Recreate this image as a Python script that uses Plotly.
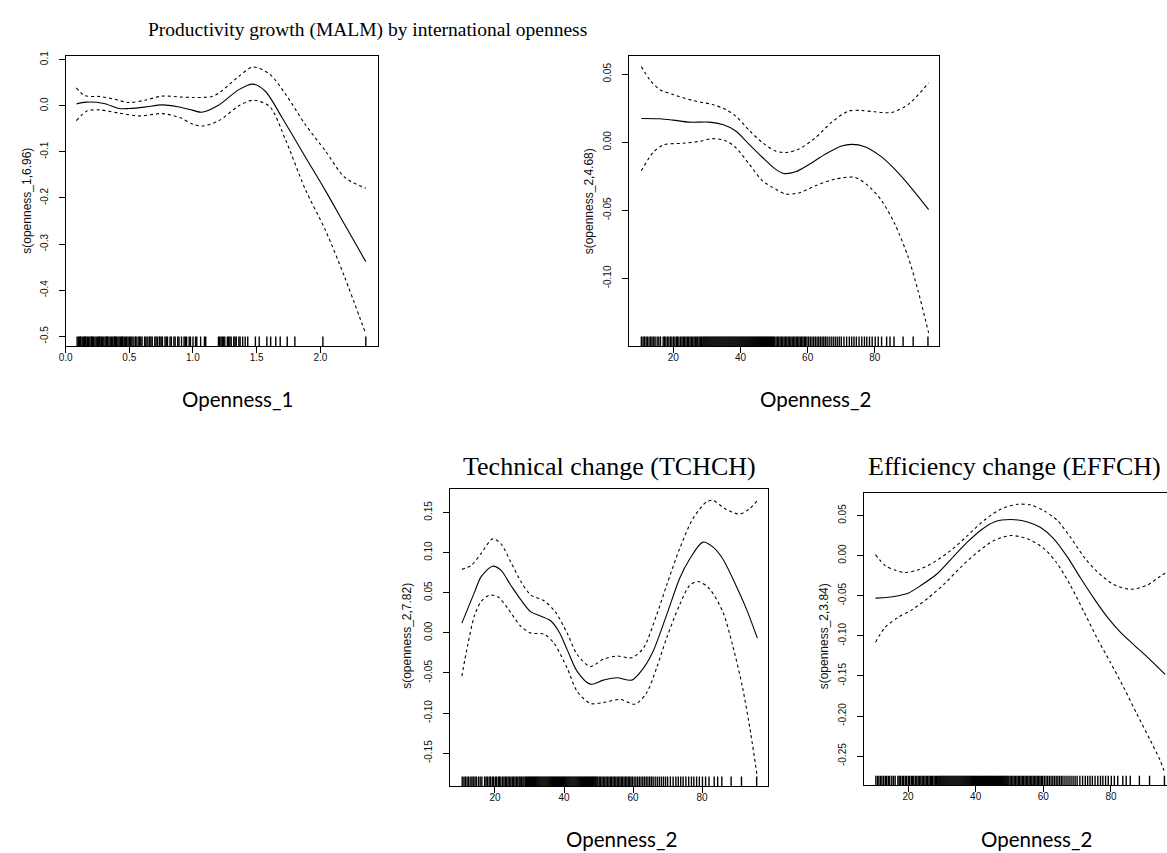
import plotly.graph_objects as go

W, H = 1167, 853

# ---------------- data ----------------
# Panel 1: Productivity growth vs openness_1
p1_fit_x = [0.084, 0.16, 0.30, 0.42, 0.5, 0.62, 0.76, 0.88, 1.0, 1.07, 1.2, 1.36, 1.47, 1.57, 1.70, 1.88, 2.04, 2.20, 2.357]
p1_fit_y = [0.004, 0.008, 0.005, -0.006, -0.006, -0.003, 0.002, -0.002, -0.010, -0.014, 0.001, 0.035, 0.047, 0.031, -0.026, -0.110, -0.184, -0.262, -0.338]
p1_up_x = [0.084, 0.15, 0.27, 0.37, 0.5, 0.62, 0.76, 0.9, 1.0, 1.15, 1.22, 1.36, 1.47, 1.6, 1.73, 1.88, 2.04, 2.19, 2.357]
p1_up_y = [0.039, 0.022, 0.020, 0.015, 0.007, 0.012, 0.021, 0.019, 0.018, 0.020, 0.031, 0.064, 0.084, 0.069, 0.024, -0.040, -0.098, -0.155, -0.179]
p1_lo_x = [0.084, 0.17, 0.27, 0.42, 0.58, 0.76, 0.9, 1.0, 1.07, 1.2, 1.36, 1.47, 1.6, 1.73, 1.88, 2.04, 2.19, 2.357]
p1_lo_y = [-0.032, -0.011, -0.009, -0.016, -0.022, -0.017, -0.026, -0.040, -0.044, -0.033, 0.000, 0.012, -0.001, -0.076, -0.180, -0.270, -0.371, -0.495]

# Panel 2: Productivity growth vs openness_2
p2_fit_x = [10.5, 16, 20, 24.8, 30.7, 34.7, 38.6, 42.6, 46.5, 50.4, 52.9, 56.4, 60.3, 65.2, 70.1, 73.1, 77, 82, 85.9, 89.9, 96]
p2_fit_y = [0.0175, 0.0173, 0.0163, 0.0148, 0.0148, 0.013, 0.0083, -0.0015, -0.011, -0.0197, -0.0229, -0.0217, -0.0165, -0.0088, -0.0027, -0.0015, -0.0032, -0.0107, -0.0197, -0.0307, -0.0494]
p2_up_x = [10.5, 13, 16, 20, 25.8, 31.7, 35.7, 38.6, 42.6, 46.5, 50.4, 53.4, 57.3, 62.3, 67.2, 72.1, 76.1, 80, 84.9, 89.9, 96]
p2_up_y = [0.0557, 0.046, 0.0387, 0.035, 0.0307, 0.0277, 0.024, 0.0192, 0.0088, -0.0002, -0.0063, -0.0075, -0.0051, 0.0034, 0.0148, 0.0229, 0.0234, 0.0224, 0.0219, 0.0277, 0.0436]
p2_lo_x = [10.5, 14, 17, 22.9, 27.8, 31.7, 35.7, 38.6, 42.6, 46.5, 50.4, 53.4, 57.3, 62.3, 68.2, 74.1, 78, 82, 85.9, 89.9, 92.8, 96]
p2_lo_y = [-0.0209, -0.0075, -0.0019, -0.0007, 0.0007, 0.0027, 0.001, -0.0039, -0.016, -0.0282, -0.0343, -0.038, -0.0372, -0.0319, -0.027, -0.0258, -0.0319, -0.0428, -0.0598, -0.0842, -0.1085, -0.140]

# Panel 3: Technical change vs openness_2
p3_fit_x = [10.4, 14.1, 16, 19.3, 21.7, 24.6, 27.5, 30.4, 33.2, 36.1, 38.5, 40.9, 43.8, 47.6, 51.4, 55.3, 59.6, 63, 65.8, 69.7, 73.5, 76.4, 80.2, 83.1, 86, 89.8, 92.7, 96]
p3_fit_y = [0.012, 0.051, 0.070, 0.083, 0.078, 0.059, 0.041, 0.026, 0.021, 0.015, 0.0017, -0.021, -0.048, -0.064, -0.059, -0.056, -0.059, -0.044, -0.023, 0.022, 0.068, 0.092, 0.113, 0.107, 0.092, 0.059, 0.031, -0.0066]
p3_up_x = [10.4, 13.1, 16, 19.3, 21.7, 24.6, 27.5, 30.4, 34.2, 37.5, 40.9, 43.8, 47.6, 51.4, 55.3, 59.6, 63, 66.8, 69.7, 73.5, 77.3, 81.2, 83.1, 86.9, 90.8, 93.6, 96]
p3_up_y = [0.079, 0.084, 0.099, 0.117, 0.111, 0.088, 0.064, 0.047, 0.040, 0.026, -0.0004, -0.027, -0.042, -0.033, -0.029, -0.031, -0.019, 0.022, 0.059, 0.105, 0.142, 0.163, 0.165, 0.154, 0.148, 0.154, 0.165]
p3_lo_x = [10.4, 12.1, 14.1, 16, 18.4, 20.8, 23.6, 27.5, 30.4, 34.2, 37.1, 40.9, 43.8, 47.6, 51.4, 56.2, 60.6, 63.9, 66.8, 69.7, 73.5, 76.4, 78.8, 82.1, 86, 88.8, 91.7, 94.1, 96]
p3_lo_y = [-0.054, -0.015, 0.022, 0.039, 0.047, 0.045, 0.031, 0.008, -0.0004, -0.0017, -0.013, -0.044, -0.073, -0.088, -0.087, -0.083, -0.089, -0.075, -0.044, -0.0066, 0.035, 0.059, 0.064, 0.055, 0.026, -0.015, -0.068, -0.126, -0.180]

# Panel 4: Efficiency change vs openness_2
p4_fit_x = [10.4, 14.1, 17.1, 20, 23.9, 28.8, 33.7, 37.6, 41.6, 45.5, 50.4, 55.3, 59.2, 63.1, 67.1, 71, 74.9, 78.8, 82.7, 86.7, 90.6, 96]
p4_fit_y = [-0.053, -0.052, -0.050, -0.047, -0.037, -0.022, 0.0, 0.017, 0.032, 0.042, 0.045, 0.042, 0.035, 0.021, -0.0016, -0.028, -0.053, -0.076, -0.095, -0.111, -0.126, -0.148]
p4_up_x = [10.4, 13.1, 16.1, 19, 22.9, 27.8, 32.7, 37.6, 42.5, 47.5, 52.4, 56.3, 60.2, 64.1, 68, 72, 75.9, 80.8, 85.7, 90.6, 94.5, 96]
p4_up_y = [0.0012, -0.012, -0.018, -0.021, -0.018, -0.0078, 0.0066, 0.025, 0.044, 0.058, 0.064, 0.063, 0.056, 0.044, 0.023, -0.0016, -0.020, -0.036, -0.042, -0.037, -0.026, -0.022]
p4_lo_x = [10.4, 13.1, 17.1, 21, 25.9, 30.8, 35.7, 40.6, 45.5, 50.4, 55.3, 60.2, 64.1, 68, 72, 75.9, 79.8, 83.7, 87.6, 91.6, 94.5, 96]
p4_lo_y = [-0.108, -0.090, -0.077, -0.068, -0.053, -0.035, -0.014, 0.0045, 0.019, 0.025, 0.021, 0.0087, -0.0099, -0.037, -0.070, -0.103, -0.133, -0.164, -0.197, -0.230, -0.255, -0.272]

# Rug (observed covariate values)
openness_1_obs = [0.09, 0.10, 0.11, 0.115, 0.12, 0.13, 0.14, 0.15, 0.155, 0.16, 0.17, 0.18, 0.19, 0.20,
                  0.205, 0.21, 0.22, 0.23, 0.24, 0.25, 0.26, 0.265, 0.27, 0.28, 0.29, 0.30, 0.31, 0.32,
                  0.325, 0.33, 0.34, 0.35, 0.36, 0.37, 0.38, 0.385, 0.39, 0.40, 0.41, 0.42, 0.43, 0.44,
                  0.445, 0.45, 0.46, 0.47, 0.48, 0.49, 0.50, 0.51, 0.52, 0.53, 0.545, 0.55, 0.56, 0.575,
                  0.58, 0.59, 0.60, 0.62, 0.63, 0.64, 0.655, 0.66, 0.67, 0.68, 0.70, 0.71, 0.72, 0.735,
                  0.74, 0.75, 0.76, 0.78, 0.79, 0.80, 0.82, 0.83, 0.85, 0.86, 0.88, 0.89, 0.91, 0.93,
                  0.94, 0.95, 0.97, 0.98, 1.00, 1.02, 1.03, 1.06, 1.09, 1.10, 1.20, 1.21, 1.22, 1.23,
                  1.24, 1.25, 1.27, 1.28, 1.29, 1.30, 1.32, 1.33, 1.34, 1.36, 1.37, 1.39, 1.41, 1.43,
                  1.49, 1.52, 1.58, 1.61, 1.65, 1.685, 1.74, 1.80, 2.02, 2.357]
openness_2_obs = [10.5, 11.0, 11.4, 11.9, 12.3, 12.8, 13.3, 13.7, 14.2, 14.6, 15.2, 15.7, 16.2, 17.0, 17.4,
                  17.8, 18.3, 18.7, 19.2, 19.6, 20.1, 20.5, 21.0, 21.3, 21.7, 22.2, 22.6, 23.0, 23.4,
                  23.8, 24.2, 24.6, 25.0, 25.4, 25.8, 26.2, 26.6, 27.0, 27.3, 27.7, 28.1, 28.4, 28.8,
                  29.1, 29.4, 29.7, 30.0, 30.3, 30.6, 30.9, 31.2, 31.5, 31.8, 32.1, 32.4, 32.7, 33.0,
                  33.3, 33.6, 33.9, 34.2, 34.5, 34.8, 35.1, 35.4, 35.7, 36.0, 36.3, 36.6, 36.9, 37.2,
                  37.5, 37.8, 38.1, 38.4, 38.7, 39.0, 39.3, 39.6, 39.9, 40.2, 40.5, 40.8, 41.1, 41.4,
                  41.7, 42.0, 42.3, 42.6, 42.9, 43.2, 43.5, 43.8, 44.1, 44.4, 44.7, 45.0, 45.3, 45.6,
                  45.9, 46.2, 46.5, 46.8, 47.1, 47.4, 47.7, 48.0, 48.3, 48.6, 48.9, 49.2, 49.5, 49.8,
                  50.2, 50.6, 51.0, 51.4, 51.8, 52.2, 52.6, 53.0, 53.4, 53.8, 54.2, 54.6, 55.0, 55.4,
                  55.8, 56.2, 56.6, 57.0, 57.4, 57.8, 58.2, 58.6, 59.0, 59.4, 59.8, 60.3, 60.8, 61.3,
                  61.8, 62.3, 62.8, 63.3, 63.8, 64.3, 64.8, 65.3, 65.8, 66.4, 67.0, 67.6, 68.2, 68.8,
                  69.4, 70.0, 70.8, 71.6, 72.4, 73.1, 73.8, 74.5, 75.3, 76.1, 76.9, 77.6, 78.4, 79.2,
                  80.1, 81.0, 82.0, 83.5, 84.5, 85.7, 88.4, 91.4, 95.8]

# Tick values/labels
p1_xt = [0.0, 0.5, 1.0, 1.5, 2.0]
p1_xl = ["0.0", "0.5", "1.0", "1.5", "2.0"]
p1_yt = [-0.5, -0.4, -0.3, -0.2, -0.1, 0.0, 0.1]
p1_yl = ["-0.5", "-0.4", "-0.3", "-0.2", "-0.1", "0.0", "0.1"]
o2_xt = [20, 40, 60, 80]
o2_xl = ["20", "40", "60", "80"]
p2_yt = [-0.10, -0.05, 0.0, 0.05]
p2_yl = ["-0.10", "-0.05", "0.00", "0.05"]
p3_yt = [-0.15, -0.10, -0.05, 0.0, 0.05, 0.10, 0.15]
p3_yl = ["-0.15", "-0.10", "-0.05", "0.00", "0.05", "0.10", "0.15"]
p4_yt = [-0.25, -0.20, -0.15, -0.10, -0.05, 0.0, 0.05]
p4_yl = ["-0.25", "-0.20", "-0.15", "-0.10", "-0.05", "0.00", "0.05"]

# ---------------- layout helpers ----------------
def px2x(px):
    return px / W

def py2y(py):
    return 1 - py / H

panels = [
    dict(box=(59, 373, 51, 343), xr=[0.0, 2.451], yr=[-0.521, 0.1086],
         fit=(p1_fit_x, p1_fit_y), up=(p1_up_x, p1_up_y), lo=(p1_lo_x, p1_lo_y),
         rug=openness_1_obs, xt=p1_xt, xl=p1_xl, yt=p1_yt, yl=p1_yl, mirror_y=True),
    dict(box=(626, 938, 51, 343), xr=[6.9, 99.2], yr=[-0.1496, 0.0636],
         fit=(p2_fit_x, p2_fit_y), up=(p2_up_x, p2_up_y), lo=(p2_lo_x, p2_lo_y),
         rug=openness_2_obs, xt=o2_xt, xl=o2_xl, yt=p2_yt, yl=p2_yl, mirror_y=True),
    dict(box=(446, 766, 487, 786), xr=[7.06, 99.2], yr=[-0.1914, 0.179],
         fit=(p3_fit_x, p3_fit_y), up=(p3_up_x, p3_up_y), lo=(p3_lo_x, p3_lo_y),
         rug=openness_2_obs, xt=o2_xt, xl=o2_xl, yt=p3_yt, yl=p3_yl, mirror_y=True),
    dict(box=(862, 1167, 491, 785), xr=[6.94, 96.56], yr=[-0.2865, 0.0779],
         fit=(p4_fit_x, p4_fit_y), up=(p4_up_x, p4_up_y), lo=(p4_lo_x, p4_lo_y),
         rug=openness_2_obs, xt=o2_xt, xl=o2_xl, yt=p4_yt, yl=p4_yl, mirror_y=False),
]

fig = go.Figure()
tick_font = dict(family="Liberation Sans, Arial, sans-serif", size=10, color="#111")

for i, p in enumerate(panels, start=1):
    xa = "x" if i == 1 else f"x{i}"
    ya = "y" if i == 1 else f"y{i}"
    # rug
    y0 = p["yr"][0]
    y1 = p["yr"][0] + 0.033 * (p["yr"][1] - p["yr"][0])
    rx, ry = [], []
    for v in p["rug"]:
        rx += [v, v, None]
        ry += [y0, y1, None]
    fig.add_trace(go.Scatter(x=rx, y=ry, mode="lines", line=dict(color="black", width=1.4),
                             xaxis=xa, yaxis=ya, showlegend=False, hoverinfo="skip"))
    for key, dash in (("up", "3px,3px"), ("lo", "3px,3px"), ("fit", "solid")):
        xs, ys = p[key]
        fig.add_trace(go.Scatter(x=xs, y=ys, mode="lines",
                                 line=dict(color="black", width=1.1, dash=dash,
                                           shape="spline", smoothing=0.8),
                                 xaxis=xa, yaxis=ya, showlegend=False))
    l, r, t, b = p["box"]
    xkey = "xaxis" if i == 1 else f"xaxis{i}"
    ykey = "yaxis" if i == 1 else f"yaxis{i}"
    fig.layout[xkey] = dict(domain=[px2x(l), min(px2x(r), 1.0)], range=p["xr"], anchor=ya,
                            showgrid=False, zeroline=False, showline=True, mirror=True,
                            linecolor="black", linewidth=1, ticks="outside", ticklen=6,
                            tickwidth=1, tickcolor="black", tickvals=p["xt"], ticktext=p["xl"],
                            tickfont=tick_font, ticklabelstandoff=-4)
    fig.layout[ykey] = dict(domain=[py2y(b), py2y(t)], range=p["yr"], anchor=xa,
                            showgrid=False, zeroline=False, showline=True, mirror=p["mirror_y"],
                            linecolor="black", linewidth=1, ticks="outside", ticklen=6,
                            tickwidth=1, tickcolor="black", tickvals=p["yt"], ticktext=p["yl"],
                            tickangle=-90, tickfont=tick_font, ticklabelstandoff=7)

# ---------------- text ----------------
serif = "Liberation Serif, Times New Roman, serif"
ann = []
ann.append(dict(text="Productivity growth (MALM) by international openness", x=px2x(363), y=py2y(25),
                font=dict(family=serif, size=19.5, color="black")))
ann.append(dict(text="Technical change (TCHCH)", x=px2x(606), y=py2y(464),
                font=dict(family=serif, size=26, color="black")))
ann.append(dict(text="Efficiency change (EFFCH)", x=px2x(1014), y=py2y(464),
                font=dict(family=serif, size=26, color="black")))
xt_font = dict(family="Lato, Noto Sans, sans-serif", size=20.5, color="black")
for txt, cx, cy in (("Openness_1", 232, 396), ("Openness_2", 813, 396),
                    ("Openness_2", 618, 839), ("Openness_2", 1036, 839)):
    ann.append(dict(text=txt, x=px2x(cx), y=py2y(cy), font=xt_font))
yt_font = dict(family="Liberation Sans, Arial, sans-serif", size=12, color="#111")
for txt, cx, cy in (("s(openness_1,6.96)", 20, 197), ("s(openness_2,4.68)", 585, 197),
                    ("s(openness_2,7.82)", 403, 635), ("s(openness_2,3.84)", 822, 635)):
    ann.append(dict(text=txt, x=px2x(cx), y=py2y(cy), font=yt_font, textangle=-90))
for a in ann:
    a.update(xref="paper", yref="paper", xanchor="center", yanchor="middle", showarrow=False)
fig.update_layout(annotations=ann)

fig.update_layout(width=W, height=H, margin=dict(l=0, r=0, t=0, b=0),
                  paper_bgcolor="white", plot_bgcolor="white")
fig.write_html("out.html")
